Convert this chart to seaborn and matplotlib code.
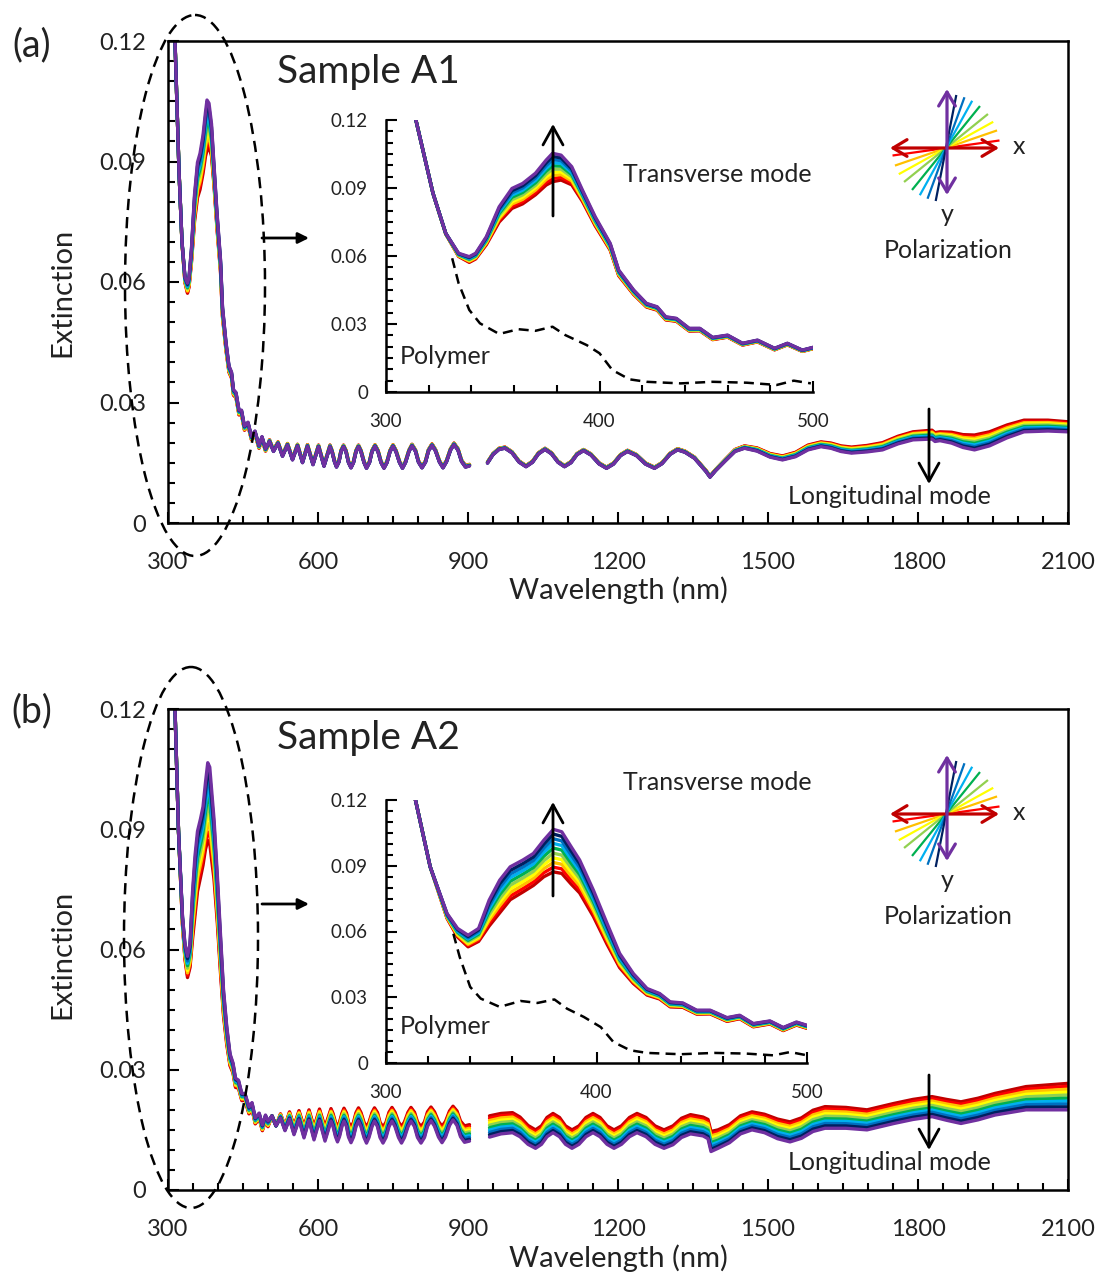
import numpy as np
import pandas as pd
import matplotlib
matplotlib.use("Agg")
import matplotlib.pyplot as plt
import seaborn as sns
from matplotlib.patches import Ellipse
from matplotlib.ticker import MultipleLocator, FuncFormatter

# ---------------- data ----------------
ANGLES = ["0°", "10°", "20°", "30°", "40°", "50°", "60°", "70°", "80°", "90°"]
COLORS = ["#C00000", "#FF0000", "#FFC000", "#FFFF00", "#92D050",
          "#00B050", "#00B0F0", "#0070C0", "#002060", "#7030A0"]
WEIGHTS = [0.0, 0.11, 0.22, 0.33, 0.44, 0.56, 0.67, 0.78, 0.89, 1.0]

# ---- Sample A1 ----
WL_A_UV = [305, 314, 322, 328, 334, 339, 342, 347, 353, 359, 364, 370, 375, 378, 382, 387, 392, 398, 405, 409,
           416, 422, 427, 431, 436, 442, 447, 453, 460, 467, 474, 482, 488, 495, 500]
PUR_A_UV = [0.145, 0.120, 0.0877, 0.0700, 0.0612, 0.0597, 0.0612, 0.0685, 0.0817, 0.0898, 0.0920, 0.0965, 0.1023,
            0.1053, 0.1045, 0.0994, 0.0891, 0.0773, 0.0656, 0.0538, 0.0450, 0.0391, 0.0376, 0.0332, 0.0325, 0.0281,
            0.0281, 0.0241, 0.0251, 0.0215, 0.0229, 0.0193, 0.0215, 0.0185, 0.0197]
RED_A_UV = [0.145, 0.120, 0.0877, 0.0697, 0.0598, 0.0572, 0.0587, 0.0650, 0.0750, 0.0810, 0.0830, 0.0870, 0.0913,
            0.0928, 0.0935, 0.0914, 0.0841, 0.0733, 0.0626, 0.0513, 0.0430, 0.0375, 0.0361, 0.0318, 0.0312, 0.0269,
            0.0270, 0.0231, 0.0242, 0.0207, 0.0221, 0.0186, 0.0208, 0.0179, 0.0191]
WL_A_VIS = [503, 511, 520, 529, 539, 549, 559, 569, 579, 590, 601, 612, 624, 628, 633, 637, 642, 646, 651, 656,
            661, 666, 671, 676, 681, 686, 692, 697, 703, 708, 714, 720, 726, 732, 738, 744, 750, 756, 763, 769,
            775, 782, 788, 795, 801, 808, 815, 821, 828, 835, 843, 850, 857, 865, 872, 880, 887, 895, 903]
PUR_A_VIS = [0.0203, 0.0178, 0.0198, 0.0166, 0.0194, 0.0157, 0.0192, 0.0150, 0.0191, 0.0145, 0.0190, 0.0141,
             0.0190, 0.0177, 0.0152, 0.0139, 0.0152, 0.0177, 0.0190, 0.0177, 0.0150, 0.0137, 0.0150, 0.0177,
             0.0190, 0.0177, 0.0150, 0.0136, 0.0150, 0.0177, 0.0191, 0.0177, 0.0150, 0.0136, 0.0150, 0.0177,
             0.0191, 0.0177, 0.0150, 0.0136, 0.0150, 0.0178, 0.0192, 0.0178, 0.0151, 0.0137, 0.0151, 0.0179,
             0.0193, 0.0179, 0.0151, 0.0137, 0.0152, 0.0181, 0.0195, 0.0181, 0.0153, 0.0139, 0.0142]
RED_A_VIS = [0.0207, 0.0182, 0.0202, 0.0170, 0.0198, 0.0161, 0.0196, 0.0154, 0.0195, 0.0149, 0.0194, 0.0145,
             0.0194, 0.0181, 0.0156, 0.0143, 0.0156, 0.0181, 0.0194, 0.0181, 0.0154, 0.0141, 0.0154, 0.0181,
             0.0194, 0.0181, 0.0154, 0.0140, 0.0154, 0.0181, 0.0195, 0.0181, 0.0154, 0.0140, 0.0154, 0.0181,
             0.0195, 0.0181, 0.0154, 0.0140, 0.0154, 0.0182, 0.0196, 0.0182, 0.0155, 0.0141, 0.0155, 0.0183,
             0.0197, 0.0183, 0.0155, 0.0141, 0.0156, 0.0185, 0.0199, 0.0185, 0.0157, 0.0143, 0.0146]
WL_A_NIR = [939, 950, 962, 974, 988, 1002, 1016, 1029, 1041, 1054, 1067, 1080, 1093, 1106, 1118, 1131, 1146, 1162,
            1177, 1191, 1205, 1219, 1237, 1255, 1273, 1288, 1304, 1319, 1334, 1353, 1376, 1384, 1395, 1415, 1434,
            1453, 1478, 1504, 1529, 1555, 1580, 1606, 1626, 1646, 1667, 1698, 1729, 1760, 1790, 1828, 1834, 1844,
            1867, 1890, 1913, 1943, 1978, 2012, 2060, 2100]
PUR_A_NIR = [0.0149, 0.0170, 0.0183, 0.0186, 0.01745, 0.01515, 0.0140, 0.0151, 0.0172, 0.0183, 0.0172, 0.0151,
             0.0140, 0.0150, 0.0170, 0.0180, 0.0169, 0.0147, 0.0136, 0.01465, 0.01675, 0.0178, 0.01675, 0.01465,
             0.0136, 0.01475, 0.01705, 0.0182, 0.0176, 0.0161, 0.0128, 0.0114, 0.0130, 0.0155, 0.0178, 0.0186,
             0.0179, 0.0164, 0.0157, 0.0165, 0.0182, 0.0190, 0.0186, 0.0178, 0.0174, 0.0177, 0.0182, 0.0197,
             0.0207, 0.0209, 0.0203, 0.0205, 0.0199, 0.0188, 0.0182, 0.0192, 0.0212, 0.0227, 0.0229, 0.0227]
RED_A_NIR = [0.0152, 0.0173, 0.0186, 0.0189, 0.01775, 0.01545, 0.0143, 0.0154, 0.0175, 0.0186, 0.0175, 0.0154,
             0.0143, 0.0153, 0.0173, 0.0183, 0.0172, 0.0150, 0.0139, 0.01495, 0.01705, 0.0181, 0.01705, 0.01495,
             0.0139, 0.01505, 0.01735, 0.0185, 0.0179, 0.0164, 0.0131, 0.0117, 0.0133, 0.0159, 0.0183, 0.0192,
             0.0187, 0.0173, 0.0167, 0.0176, 0.0194, 0.0202, 0.0199, 0.0192, 0.0189, 0.0193, 0.0200, 0.0216,
             0.0227, 0.0231, 0.0225, 0.0227, 0.0226, 0.0220, 0.0219, 0.0227, 0.0244, 0.0256, 0.0256, 0.0252]

# ---- Sample A2 ----
WL_B_UV = [305, 314, 321, 329, 334, 339, 344, 349, 354, 359, 365, 370, 375, 379.5, 383.5, 388, 392, 398.5, 405, 411,
           417.5, 424, 430, 435, 441, 447.6, 454, 462, 468, 474.5, 482.4, 488.7, 495, 500]
PUR_B_UV = [0.145, 0.120, 0.0895, 0.0682, 0.0614, 0.0583, 0.0614, 0.0743, 0.0834, 0.0895, 0.0926, 0.0956, 0.1017,
            0.1066, 0.1055, 0.0986, 0.0926, 0.0789, 0.0637, 0.0500, 0.0408, 0.0340, 0.0317, 0.0279, 0.0274, 0.0241,
            0.0241, 0.0207, 0.0218, 0.0180, 0.0192, 0.0162, 0.0187, 0.0172]
RED_B_UV = [0.145, 0.120, 0.0895, 0.0660, 0.0575, 0.0530, 0.0555, 0.0625, 0.0685, 0.0745, 0.0780, 0.0810, 0.0850,
            0.0872, 0.0865, 0.0816, 0.0776, 0.0669, 0.0542, 0.0435, 0.0363, 0.0310, 0.0292, 0.0256, 0.0254, 0.0223,
            0.0224, 0.0190, 0.0202, 0.0165, 0.0178, 0.0148, 0.0173, 0.0158]
WL_B_VIS = [508, 516, 525, 534, 543, 552, 562, 572, 582, 592, 603, 614, 626, 630, 635, 639, 643, 648, 652, 657,
            661, 666, 671, 676, 681, 686, 692, 697, 702, 708, 713, 719, 724, 730, 736, 742, 748, 754, 761, 767,
            773, 780, 786, 793, 799, 806, 813, 819, 826, 833, 841, 848, 855, 863, 870, 878, 885, 893, 903]
PUR_B_VIS = [0.0185, 0.0160, 0.0180, 0.0148, 0.0177, 0.0138, 0.0175, 0.0130, 0.0174, 0.0125, 0.0173, 0.0122,
             0.0172, 0.0159, 0.0133, 0.0120, 0.0133, 0.0159, 0.0172, 0.0158, 0.0132, 0.0118, 0.0132, 0.0158,
             0.0172, 0.0158, 0.0131, 0.0117, 0.0131, 0.0158, 0.0172, 0.0158, 0.0131, 0.0117, 0.0131, 0.0158,
             0.0172, 0.0158, 0.0131, 0.0117, 0.0131, 0.0158, 0.0172, 0.0158, 0.0131, 0.0117, 0.0131, 0.0159,
             0.0173, 0.0159, 0.0132, 0.0118, 0.0132, 0.0161, 0.0175, 0.0161, 0.0133, 0.0119, 0.0122]
RED_B_VIS = [0.0185, 0.0160, 0.0190, 0.0160, 0.0195, 0.0160, 0.0198, 0.0158, 0.0200, 0.0157, 0.0202, 0.0157,
             0.0203, 0.0191, 0.0169, 0.0157, 0.0169, 0.0192, 0.0204, 0.0192, 0.0169, 0.0157, 0.0169, 0.0193,
             0.0205, 0.0193, 0.0169, 0.0157, 0.0169, 0.0193, 0.0205, 0.0193, 0.0169, 0.0157, 0.0169, 0.0194,
             0.0206, 0.0194, 0.0170, 0.0158, 0.0170, 0.0194, 0.0206, 0.0194, 0.0170, 0.0158, 0.0170, 0.0195,
             0.0207, 0.0195, 0.0171, 0.0159, 0.0171, 0.0197, 0.0209, 0.0197, 0.0172, 0.0160, 0.0163]
WL_B_NIR = [943, 966, 989, 1004, 1020, 1035, 1047, 1058, 1070, 1083, 1095, 1108, 1122, 1136, 1150, 1164, 1178,
            1192, 1207, 1223, 1238, 1256, 1274, 1292, 1310, 1327, 1345, 1370, 1380, 1386, 1400, 1423, 1445, 1468,
            1493, 1519, 1544, 1567, 1590, 1614, 1656, 1698, 1752, 1790, 1828, 1857, 1886, 1920, 1954, 2016, 2100]
PUR_B_NIR = [0.0132, 0.0140, 0.0143, 0.0133, 0.0114, 0.0104, 0.0114, 0.0133, 0.0143, 0.0133, 0.0114, 0.0104,
             0.0114, 0.0133, 0.0143, 0.0133, 0.0114, 0.0104, 0.0114, 0.0133, 0.0143, 0.0133, 0.0114, 0.0104,
             0.0113, 0.0131, 0.0140, 0.0135, 0.0128, 0.0096, 0.0104, 0.0118, 0.0140, 0.0150, 0.0143, 0.0128,
             0.0120, 0.0129, 0.0146, 0.0154, 0.0154, 0.0150, 0.0166, 0.0176, 0.0183, 0.0174, 0.0166, 0.0175,
             0.0187, 0.0200, 0.0200]
RED_B_NIR = [0.0185, 0.0191, 0.0193, 0.0182, 0.0161, 0.0150, 0.0160, 0.0181, 0.0191, 0.0181, 0.0160, 0.0150,
             0.0160, 0.0181, 0.0191, 0.0181, 0.0160, 0.0150, 0.0160, 0.0181, 0.0191, 0.0181, 0.0160, 0.0150,
             0.0160, 0.0179, 0.0188, 0.0182, 0.0176, 0.0146, 0.0150, 0.0163, 0.0185, 0.0195, 0.0189, 0.0177,
             0.0170, 0.0180, 0.0199, 0.0208, 0.0206, 0.0200, 0.0216, 0.0226, 0.0233, 0.0226, 0.0220, 0.0229,
             0.0241, 0.0258, 0.0266]

# Polymer reference (dashed)
POLY_A_WL = [331, 334, 339, 344, 353, 362, 370, 378, 384, 394, 400, 406, 414, 422, 438, 453, 469, 483, 491, 499]
POLY_A = [0.059, 0.048, 0.0362, 0.0303, 0.0256, 0.0277, 0.0270, 0.0288, 0.0251, 0.0207, 0.0171, 0.0097, 0.0056,
          0.0045, 0.0038, 0.0045, 0.0041, 0.0031, 0.0050, 0.0038]
POLY_B_WL = [332, 335, 340, 345, 354, 364, 372, 380, 386, 394, 402, 408, 416, 424, 440, 456, 471, 484, 492, 500]
POLY_B = [0.059, 0.0484, 0.0347, 0.0294, 0.0256, 0.0283, 0.0274, 0.0290, 0.0248, 0.0210, 0.0164, 0.0096, 0.0058,
          0.0046, 0.0040, 0.0046, 0.0043, 0.0035, 0.0050, 0.0035]

MAIN_XTICKS = [300, 600, 900, 1200, 1500, 1800, 2100]
INSET_XTICKS = [300, 400, 500]
YTICKS = [0, 0.03, 0.06, 0.09, 0.12]

# ---------------- figure ----------------
sns.set_theme(style="white")
plt.rcParams["font.family"] = ["Lato", "DejaVu Sans"]

W, H = 1102, 1275
fig = plt.figure(figsize=(W / 100, H / 100), dpi=100)


def px_axes(l, t, r, b):
    return fig.add_axes([l / W, 1 - b / H, (r - l) / W, (b - t) / H])


def build(segments):
    frames = []
    for sid, (wl, red, pur) in enumerate(segments):
        wl, red, pur = np.asarray(wl, float), np.asarray(red, float), np.asarray(pur, float)
        for ang, w in zip(ANGLES, WEIGHTS):
            frames.append(pd.DataFrame({"wl": wl, "ext": red + w * (pur - red), "angle": ang, "seg": sid}))
    return pd.concat(frames, ignore_index=True)


yfmt = FuncFormatter(lambda v, p: "0" if abs(v) < 1e-9 else f"{v:.2f}")
TXT = "#222222"


def style_axes(ax, xmaj, xmin, labsize, xpad, ypad, inset=False):
    ax.xaxis.set_major_locator(MultipleLocator(xmaj))
    ax.xaxis.set_minor_locator(MultipleLocator(xmin))
    ax.yaxis.set_major_locator(MultipleLocator(0.03))
    ax.yaxis.set_minor_locator(MultipleLocator(0.005))
    ax.yaxis.set_major_formatter(yfmt)
    ax.tick_params(which="both", direction="in", bottom=True, left=True, top=False, right=False,
                   colors="black", width=1.5)
    ax.tick_params(which="major", length=8)
    ax.tick_params(which="minor", length=5)
    ax.tick_params(axis="x", which="major", labelsize=labsize, pad=xpad, labelcolor=TXT)
    ax.tick_params(axis="y", which="major", labelsize=labsize, pad=ypad, labelcolor=TXT)
    for name, sp in ax.spines.items():
        sp.set_color("black")
        sp.set_linewidth(1.8)
        if inset and name in ("top", "right"):
            sp.set_visible(False)
    ax.grid(False)


def panel(top, bottom, ins_box, segs, poly_wl, poly, xlab_y, ylab_y):
    df = build(segs)
    ax = px_axes(168, top, 1068, bottom)
    sns.lineplot(data=df, x="wl", y="ext", hue="angle", hue_order=ANGLES, units="seg", estimator=None,
                 palette=COLORS, linewidth=2.4, legend=False, sort=False, ax=ax)
    ax.set_xlim(300, 2100)
    ax.set_ylim(0, 0.12)
    style_axes(ax, 300, 50, 17, 21, 16)
    ax.set_xticks(MAIN_XTICKS)
    ax.set_yticks(YTICKS)
    ax.set_xlabel("Wavelength (nm)", fontsize=21, color=TXT, va="center")
    ax.set_ylabel("Extinction", fontsize=21, color=TXT, va="center", ha="center")
    hpx = bottom - top
    ax.xaxis.set_label_coords(0.5, -(xlab_y - bottom) / hpx)
    ax.yaxis.set_label_coords((62 - 168) / 900, (bottom - ylab_y) / hpx)

    l, t, r, b = ins_box
    axi = px_axes(l, t, r, b)
    axi.set_facecolor("none")
    sns.lineplot(data=df, x="wl", y="ext", hue="angle", hue_order=ANGLES, units="seg", estimator=None,
                 palette=COLORS, linewidth=2.4, legend=False, sort=False, ax=axi)
    sns.lineplot(x=poly_wl, y=poly, color="black", linewidth=1.8, linestyle=(0, (4, 2.5)), ax=axi,
                 estimator=None, sort=False)
    axi.set_xlim(300, 500)
    axi.set_ylim(0, 0.12)
    style_axes(axi, 100, 20, 13.5, 15, 13, inset=True)
    axi.set_xticks(INSET_XTICKS)
    axi.set_yticks(YTICKS)
    axi.set_xlabel("")
    axi.set_ylabel("")
    return ax, axi


panel(41, 523, (386, 120, 813, 392),
      [(WL_A_UV + WL_A_VIS, RED_A_UV + RED_A_VIS, PUR_A_UV + PUR_A_VIS), (WL_A_NIR, RED_A_NIR, PUR_A_NIR)],
      POLY_A_WL, POLY_A, 590, 292)
panel(709, 1190, (386, 800, 807, 1063),
      [(WL_B_UV + WL_B_VIS, RED_B_UV + RED_B_VIS, PUR_B_UV + PUR_B_VIS), (WL_B_NIR, RED_B_NIR, PUR_B_NIR)],
      POLY_B_WL, POLY_B, 1258, 954)

# ---------------- overlay annotations (pixel coordinates) ----------------
ov = fig.add_axes([0, 0, 1, 1], zorder=10)
ov.set_xlim(0, W)
ov.set_ylim(H, 0)
ov.axis("off")
ov.patch.set_alpha(0)

ICON_ANGLES = [8, 19, 29, 39, 51, 61, 70, 79]
HEAD = "->,head_length=0.65,head_width=0.36"


def decorate(dy, title, letter, ell, t_arrow, transverse_y, polymer_y):
    ov.text(32, 45 + dy, letter, fontsize=27, ha="center", va="center", color=TXT)
    ov.text(277, 72 + dy, title, fontsize=28, ha="left", va="center", color=TXT)
    ov.add_patch(Ellipse(ell[0], ell[1], ell[2], fill=False, ec="black", lw=1.8, ls=(0, (4.5, 2.8))))
    ov.annotate("", xy=(309, 238 + dy), xytext=(262, 238 + dy),
                arrowprops=dict(arrowstyle="-|>", lw=2, color="black", mutation_scale=16, shrinkA=0, shrinkB=0))
    ov.annotate("", xy=(553, t_arrow[0]), xytext=(553, t_arrow[1]),
                arrowprops=dict(arrowstyle=HEAD, lw=2, color="black", mutation_scale=20, shrinkA=0, shrinkB=0))
    ov.annotate("", xy=(929, 484 + dy), xytext=(929, 409 + dy),
                arrowprops=dict(arrowstyle=HEAD, lw=2, color="black", mutation_scale=20, shrinkA=0, shrinkB=0))
    ov.text(445, polymer_y, "Polymer", fontsize=18, ha="center", va="center", color=TXT)
    ov.text(717, transverse_y, "Transverse mode", fontsize=18, ha="center", va="center", color=TXT)
    ov.text(889, 497 + dy, "Longitudinal mode", fontsize=18, ha="center", va="center", color=TXT)
    # polarization icon
    cx, cy = 946, 148 + dy
    L = 54
    for ang, col in zip(ICON_ANGLES, COLORS[1:9]):
        a = np.deg2rad(ang)
        ov.plot([cx - L * np.cos(a), cx + L * np.cos(a)], [cy + L * np.sin(a), cy - L * np.sin(a)],
                color=col, lw=1.6, solid_capstyle="butt")
    ov.annotate("", xy=(999, cy), xytext=(890, cy),
                arrowprops=dict(arrowstyle="<->,head_length=0.5,head_width=0.3", lw=2.3, color="#C00000",
                                mutation_scale=20, shrinkA=0, shrinkB=0))
    ov.annotate("", xy=(cx + 1, cy - 59), xytext=(cx + 1, cy + 47),
                arrowprops=dict(arrowstyle="<->,head_length=0.5,head_width=0.3", lw=2.3, color="#7030A0",
                                mutation_scale=20, shrinkA=0, shrinkB=0))
    ov.text(1019, cy - 1, "x", fontsize=18, ha="center", va="center", color=TXT)
    ov.text(947, cy + 66, "y", fontsize=18, ha="center", va="center", color=TXT)
    ov.text(948, cy + 102, "Polarization", fontsize=18, ha="center", va="center", color=TXT)


decorate(0, "Sample A1", "(a)", ((195, 285.5), 140, 541), (124, 216), 175, 356)
decorate(666, "Sample A2", "(b)", ((191, 937.5), 134, 541), (802, 896), 783, 1026)

fig.savefig("out.png", dpi=100)
